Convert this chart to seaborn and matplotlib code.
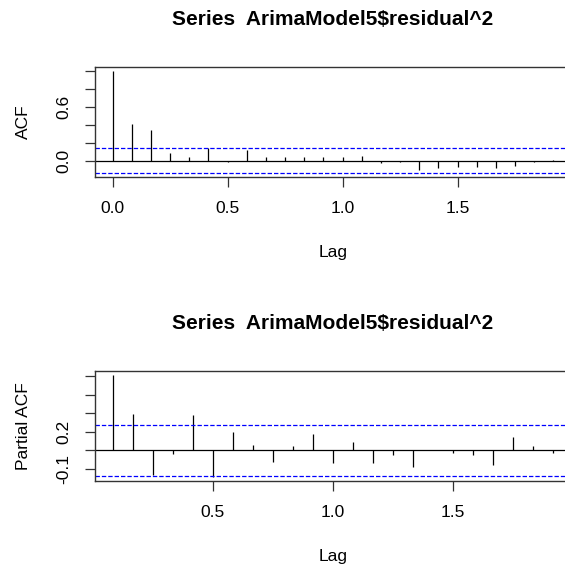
import numpy as np
import matplotlib
matplotlib.use("Agg")
import matplotlib.pyplot as plt
import seaborn as sns

# ACF / PACF of squared residuals (monthly series, lag in years)
acf_lag = np.arange(0, 24) / 12
acf_vals = [1.0, 0.41, 0.34, 0.086, 0.041, 0.135, -0.015, 0.117, 0.041, 0.04,
            0.04, 0.04, 0.04, 0.05, -0.03, -0.02, -0.105, -0.083, -0.07, -0.068,
            -0.083, -0.06, -0.02, 0.003]

pacf_lag = np.arange(1, 24) / 12
pacf_vals = [0.407, 0.198, -0.135, -0.018, 0.193, -0.144, 0.097, 0.029, -0.061,
             0.022, 0.086, -0.068, 0.045, -0.068, -0.025, -0.09, 0.004, -0.014,
             -0.025, -0.079, 0.07, 0.022, -0.014]

conf_limit = 0.137
title = "Series  ArimaModel5$residual^2"

acf_yticks = [0.0, 0.2, 0.4, 0.6, 0.8, 1.0]
acf_yticklabels = ["0.0", "", "", "0.6", "", ""]
acf_xticks = [0.0, 0.5, 1.0, 1.5]
pacf_yticks = [-0.1, 0.0, 0.1, 0.2, 0.3, 0.4]
pacf_yticklabels = ["-0.1", "", "0.2", "", "", ""]
pacf_xticks = [0.5, 1.0, 1.5]

sns.set_style("ticks")
plt.rcParams['font.family'] = ['Liberation Sans', 'DejaVu Sans']
plt.rcParams.update({"text.color": "black", "axes.labelcolor": "black",
                     "xtick.labelcolor": "black", "ytick.labelcolor": "black"})

fig = plt.figure(figsize=(5.65, 5.67), dpi=100)
W, H = 565, 567


def panel(top_px, bottom_px):
    return fig.add_axes([95 / W, 1 - bottom_px / H, 476 / W, (bottom_px - top_px) / H])


def draw(ax, lag, vals, ylab, xticks, yticks, yticklabels, xlim, ylim):
    ax.vlines(lag, 0, vals, color="black", linewidth=0.9)
    ax.axhline(0, color="black", linewidth=0.9)
    for c in (conf_limit, -conf_limit):
        ax.axhline(c, color="#0000ff", linewidth=0.9, linestyle=(0, (3.5, 1.6)))
    ax.set_xlim(*xlim)
    ax.set_ylim(*ylim)
    ax.set_xticks(xticks)
    ax.set_xticklabels([f"{t:.1f}" for t in xticks])
    ax.set_yticks(yticks)
    ax.set_yticklabels(yticklabels, rotation=90, va="center")
    ax.tick_params(length=7.2, width=0.9, color="#333333", labelcolor="black",
                   labelsize=12.5, pad=10)
    for s in ax.spines.values():
        s.set_color("#333333")
        s.set_linewidth(1.0)
    ax.set_xlabel("Lag", fontsize=12.5, color="black")
    ax.set_ylabel(ylab, fontsize=12.5, color="black")
    ax.xaxis.set_label_coords(0.5, -0.62)
    ax.yaxis.set_label_coords(-0.135, 0.5)


ax1 = panel(67, 177)
draw(ax1, acf_lag, acf_vals, "ACF", acf_xticks, acf_yticks, acf_yticklabels,
     (-0.0767, 1.993), (-0.184, 1.046))
ax2 = panel(371, 481)
draw(ax2, pacf_lag, pacf_vals, "Partial ACF", pacf_xticks, pacf_yticks, pacf_yticklabels,
     (0.01, 1.99), (-0.166, 0.429))

fig.text(333 / W, 1 - 19.5 / H, title, ha="center", va="center", fontsize=15,
         fontweight="bold", color="black")
fig.text(333 / W, 1 - 323.5 / H, title, ha="center", va="center", fontsize=15,
         fontweight="bold", color="black")

fig.savefig("out.png", dpi=100)
